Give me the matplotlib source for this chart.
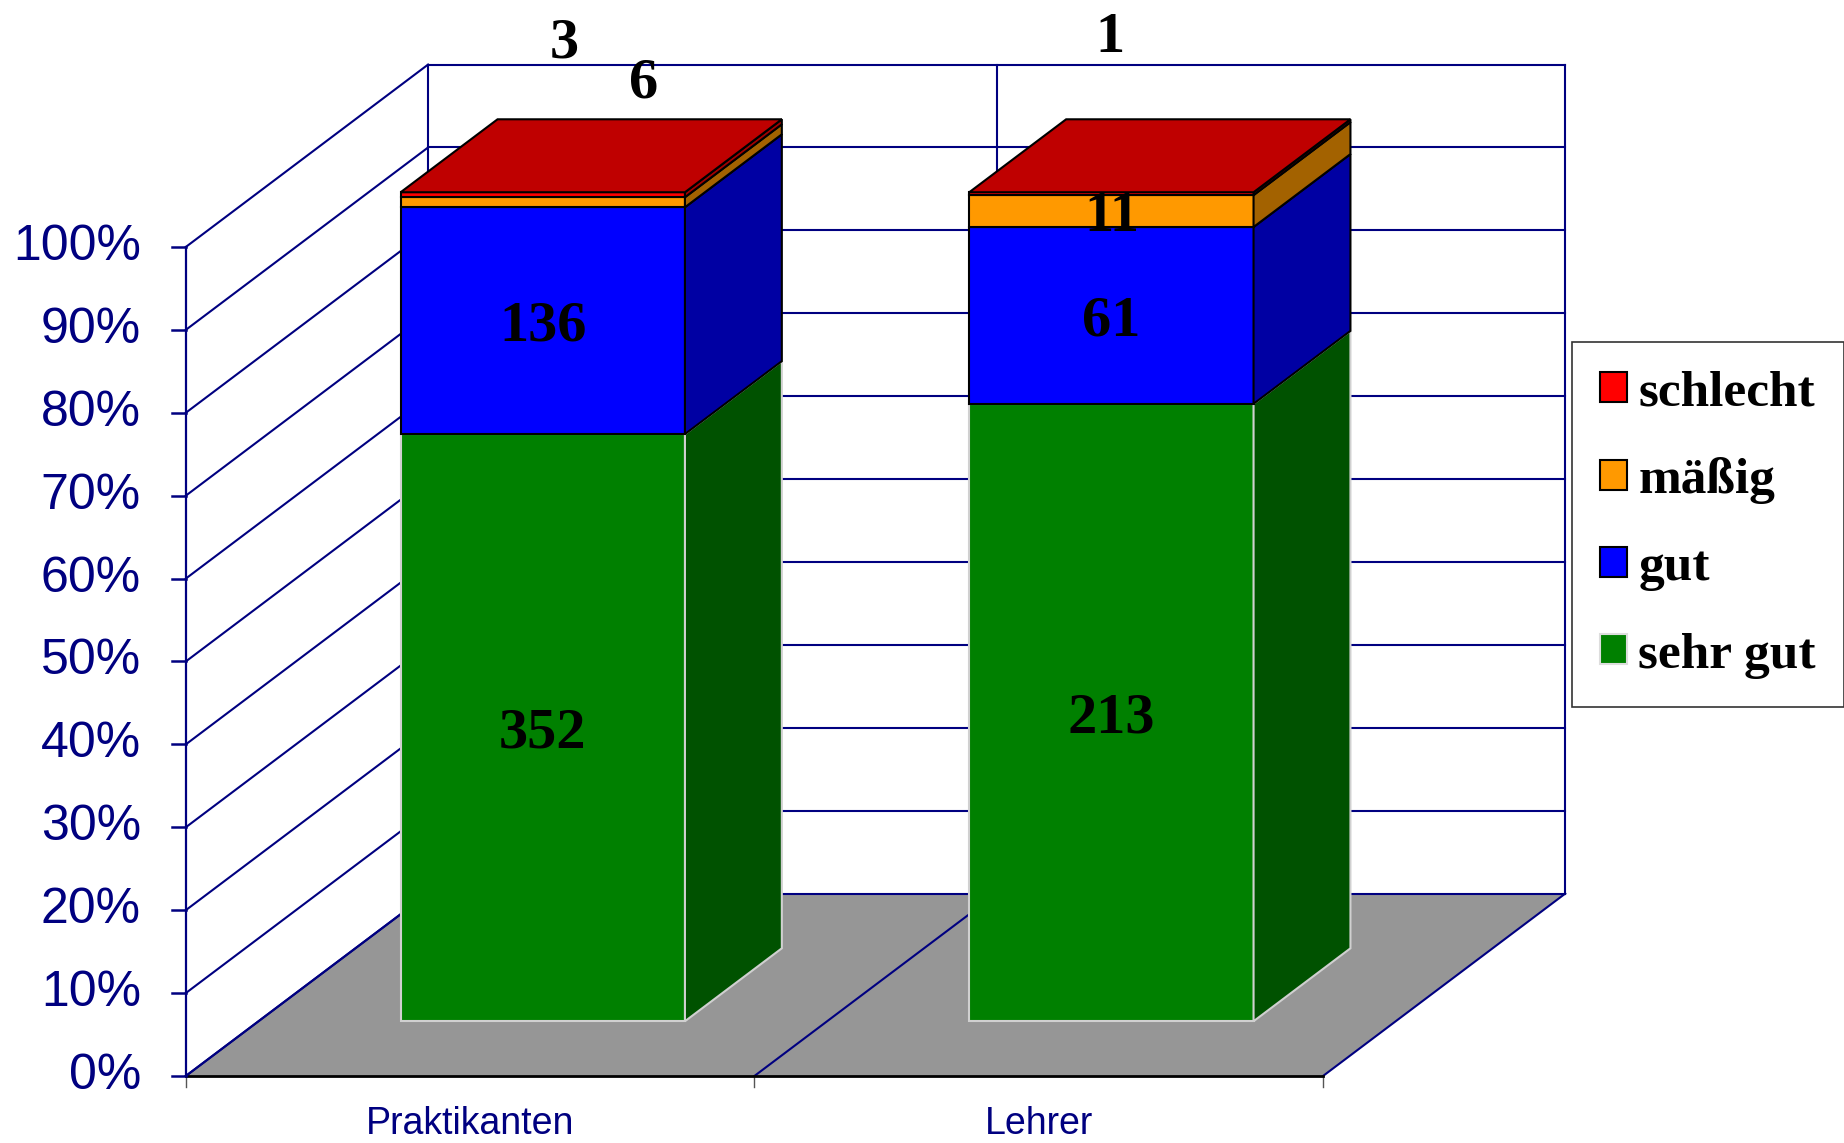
import matplotlib.pyplot as plt
from matplotlib.patches import Polygon, Patch
from matplotlib.colors import to_rgb

# data (counts per rating)
categories = ['Praktikanten', 'Lehrer']
series = ['sehr gut', 'gut', 'mäßig', 'schlecht']
sehr_gut = [352, 213]
gut = [136, 61]
maessig = [6, 11]
schlecht = [3, 1]
yticks = list(range(0, 101, 10))

values = [sehr_gut, gut, maessig, schlecht]
colors = ['#008000', '#0000FF', '#FF9900', '#FF0000']
edges = ['#d0d0d0', 'black', 'black', 'black']

# manual shifts for the small labels that Excel moved above the bars (data units)
label_shift = {('schlecht', 0): (0.038, 18.9),
               ('mäßig', 0): (0.177, 15.0),
               ('schlecht', 1): (-0.002, 19.5)}

# oblique 3D projection
DX, DY = 0.426, 22.0
D0, D1 = 0.3, 0.7
grid_c = '#000080'
floor_c = '#969696'


def proj(x, y, d):
    return (x + d * DX, y + d * DY)


def shade(c, f):
    r, g, b = to_rgb(c)
    return (r * f, g * f, b * f)


fig = plt.figure(figsize=(18.44, 11.43), dpi=100)
ax = fig.add_axes([0, 0, 1, 1])
ax.set_xlim(-0.3268, 2.9162)
ax.set_ylim(-8.085, 129.79)
ax.axis('off')

n = len(categories)

# floor
floor = [proj(0, 0, 0), proj(n, 0, 0), proj(n, 0, 1), proj(0, 0, 1)]
ax.add_patch(Polygon(floor, closed=True, facecolor=floor_c, edgecolor='none', zorder=1))
for i in range(n + 1):
    p0, p1 = proj(i, 0, 0), proj(i, 0, 1)
    ax.plot([p0[0], p1[0]], [p0[1], p1[1]], color=grid_c, lw=1.5, zorder=2)
    ax.plot([i, i], [0, -1.3], color='#555555', lw=1.0, zorder=2)
ax.plot([0, n], [0, 0], color='black', lw=2.0, zorder=2)

# back wall and left wall grid
for t in yticks:
    b0, b1 = proj(0, t, 1), proj(n, t, 1)
    ax.plot([b0[0], b1[0]], [b0[1], b1[1]], color=grid_c, lw=1.5, zorder=2)
    ax.plot([0, b0[0]], [t, b0[1]], color=grid_c, lw=1.5, zorder=2)
    ax.plot([-0.025, 0], [t, t], color=grid_c, lw=1.8, zorder=2)
    ax.text(-0.079, t, f'{t}%', ha='right', va='center', fontsize=36,
            family='Liberation Sans', color=grid_c)
for i in range(n + 1):
    b0, b1 = proj(i, 0, 1), proj(i, 100, 1)
    ax.plot([b0[0], b1[0]], [b0[1], b1[1]], color=grid_c, lw=1.5, zorder=2)
ax.plot([0, 0], [0, 100], color=grid_c, lw=1.6, zorder=2)

# bars
for i, cat in enumerate(categories):
    total = sum(v[i] for v in values)
    x0, x1 = i + 0.25, i + 0.75
    base = 0.0
    for s, (name, vals) in enumerate(zip(series, values)):
        pct = vals[i] / total * 100
        y0, y1 = base, base + pct
        front = [proj(x0, y0, D0), proj(x1, y0, D0), proj(x1, y1, D0), proj(x0, y1, D0)]
        side = [proj(x1, y0, D0), proj(x1, y0, D1), proj(x1, y1, D1), proj(x1, y1, D0)]
        ax.add_patch(Polygon(front, closed=True, facecolor=colors[s],
                             edgecolor=edges[s], lw=1.5, zorder=3))
        ax.add_patch(Polygon(side, closed=True, facecolor=shade(colors[s], 0.64),
                             edgecolor=edges[s], lw=1.5, zorder=3))
        if s == len(series) - 1:
            top = [proj(x0, y1, D0), proj(x1, y1, D0), proj(x1, y1, D1), proj(x0, y1, D1)]
            ax.add_patch(Polygon(top, closed=True, facecolor=shade(colors[s], 0.75),
                                 edgecolor='black', lw=1.5, zorder=3))
        cx, cy = proj(i + 0.5, (y0 + y1) / 2, D0)
        sx, sy = label_shift.get((name, i), (0, 0))
        ax.text(cx + sx, cy + sy - 0.7, str(vals[i]), ha='center', va='center',
                fontsize=42, fontweight='bold', family='Liberation Serif',
                color='black', zorder=5)
        base = y1
    ax.text(i + 0.5, -5.8, cat, ha='center', va='center', fontsize=27,
            family='Liberation Sans', color=grid_c)

# legend
handles = [Patch(facecolor=colors[s], edgecolor=edges[s] if s > 0 else '#dddddd',
                 lw=1.5, label=series[s]) for s in reversed(range(len(series)))]
leg = ax.legend(handles=handles, loc='upper left',
                bbox_to_anchor=(1572 / 1844, 1 - 342 / 1143),
                bbox_transform=fig.transFigure, frameon=True, fancybox=False,
                prop={'family': 'Liberation Serif', 'weight': 'bold', 'size': 37},
                handlelength=0.52, handleheight=0.52, handletextpad=0.22,
                borderpad=0.55, labelspacing=0.8, borderaxespad=0)
leg.get_frame().set_edgecolor('black')
leg.get_frame().set_linewidth(1.2)

fig.savefig('out.png', dpi=100)
